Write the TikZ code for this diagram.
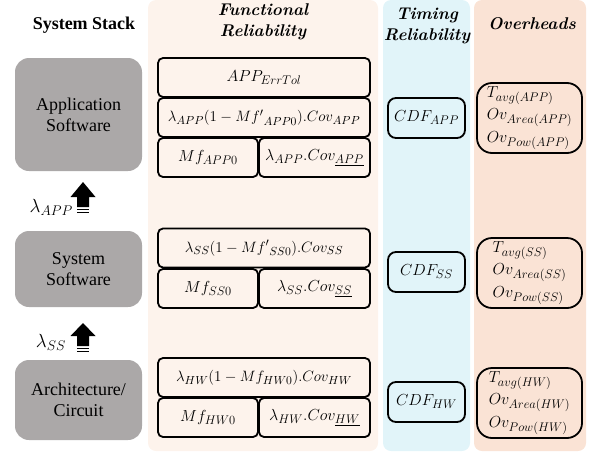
\documentclass[tikz,border=0pt]{standalone}
\usepackage{fix-cm}
\usepackage{fontspec}
\newfontfamily\stackfont{Liberation Serif}
\DeclareMathSizes{15}{15}{11.7}{9}
\DeclareMathSizes{16}{16}{12.5}{9}
\DeclareMathSizes{19}{19}{14}{10}
\definecolor{funcbg}{HTML}{FDF3EC}
\definecolor{timebg}{HTML}{E1F4F9}
\definecolor{overbg}{HTML}{FAE3D5}
\definecolor{layergray}{HTML}{ABA8A8}
\tikzset{
  column/.style={rounded corners=8pt},
  head/.style={align=center, font=\bfseries\itshape\fontsize{17}{21}\selectfont},
  layer/.style={fill=layergray, rounded corners=14pt, inner sep=0pt, align=center,
    font=\stackfont\fontsize{18}{21}\selectfont},
  term/.style={draw, line width=1.8pt, rounded corners=5pt, inner sep=0pt,
    minimum height=39pt, font=\fontsize{16}{19}\selectfont},
  fullterm/.style={term, minimum width=212pt, font=\fontsize{15}{18}\selectfont},
  cdf/.style={term, rounded corners=8pt, minimum width=77pt, minimum height=40pt},
  over/.style={term, rounded corners=15pt, minimum width=105pt, minimum height=70pt,
    align=left, font=\fontsize{16}{22.5}\selectfont},
  rate/.style={font=\fontsize{19}{21}\selectfont, inner sep=0pt}
}
\begin{document}
\begin{tikzpicture}[x=1pt,y=-1pt]
\useasboundingbox (0,0) rectangle (592,453);
% column backgrounds
\fill[funcbg,column] (148,0) rectangle (378,451);
\fill[timebg,column] (383,0) rectangle (470,451);
\fill[overbg,column] (474,0) rectangle (586,451);
% headings
\node (stackhd) at (84,25) {\stackfont\bfseries\fontsize{18}{20}\selectfont System Stack};
\node[head] (funchd) at (263,22) {Functional\\Reliability};
\node[head] (timehd) at (427,26) {Timing\\Reliability};
\node[head] (overhd) at (532,24) {Overheads};
% system stack
\node[layer, minimum width=127pt, minimum height=113pt] (app) at (78.5,114.5) {Application\\Software};
\node[layer, minimum width=127pt, minimum height=76pt] (ss) at (78.5,269) {System\\Software};
\node[layer, minimum width=127pt, minimum height=80pt] (hw) at (78.5,400) {Architecture/\\Circuit};
% rate arrows
\coordinate (apptip) at (83,182);
\fill (apptip) -- ++(12.5,15) -- ++(-6.5,0) -- ++(0,10) -- ++(-12,0) -- ++(0,-10) -- ++(-6.5,0) -- cycle;
\foreach \d in {9.5,12.5,15.5}
  \draw[line width=1.3pt] ([shift={(-6,\d+15)}]apptip) -- ++(12,0);
\node[rate, anchor=east] (applam) at (73,207) {$\lambda_{APP}$};
\coordinate (sstip) at (83,323);
\fill (sstip) -- ++(12.5,13) -- ++(-6.5,0) -- ++(0,10) -- ++(-12,0) -- ++(0,-10) -- ++(-6.5,0) -- cycle;
\foreach \d in {9.5,12.5,15.5}
  \draw[line width=1.3pt] ([shift={(-6,\d+13)}]sstip) -- ++(12,0);
\node[rate, anchor=east] (sslam) at (66,342) {$\lambda_{SS}$};
% functional reliability
\node[term, minimum width=212pt] (errtol) at (264,77.5) {$APP_{ErrTol}$};
\node[fullterm] (appfull) at (264,117.5) {$\lambda_{APP}(1-{Mf'}_{APP0}).Cov_{APP}$};
\node[term, minimum width=100pt] (appmf) at (208,157.5) {$Mf_{APP0}$};
\node[term, minimum width=111pt] (appcov) at (314.5,157.5) {$\lambda_{APP}.Cov_{\underline{APP}}$};
\node[fullterm] (ssfull) at (264,248) {$\lambda_{SS}(1-{Mf'}_{SS0}).Cov_{SS}$};
\node[term, minimum width=100pt] (ssmf) at (208,288.5) {$Mf_{SS0}$};
\node[term, minimum width=111pt] (sscov) at (314.5,288.5) {$\lambda_{SS}.Cov_{\underline{SS}}$};
\node[fullterm] (hwfull) at (264,377.5) {$\lambda_{HW}(1-Mf_{HW0}).Cov_{HW}$};
\node[term, minimum width=100pt] (hwmf) at (208,417.5) {$Mf_{HW0}$};
\node[term, minimum width=111pt] (hwcov) at (314.5,417.5) {$\lambda_{HW}.Cov_{\underline{HW}}$};
% timing reliability
\node[cdf] (cdfapp) at (426.5,118) {$CDF_{APP}$};
\node[cdf] (cdfss) at (426.5,272) {$CDF_{SS}$};
\node[cdf] (cdfhw) at (426.5,402) {$CDF_{HW}$};
% overheads
\node[over] (ovapp) at (529.5,118) {$T_{avg(APP)}$\\$Ov_{Area(APP)}$\\$Ov_{Pow(APP)}$};
\node[over] (ovss) at (529.5,273) {$T_{avg(SS)}$\\$Ov_{Area(SS)}$\\$Ov_{Pow(SS)}$};
\node[over] (ovhw) at (529.5,403) {$T_{avg(HW)}$\\$Ov_{Area(HW)}$\\$Ov_{Pow(HW)}$};
\end{tikzpicture}
\end{document}
